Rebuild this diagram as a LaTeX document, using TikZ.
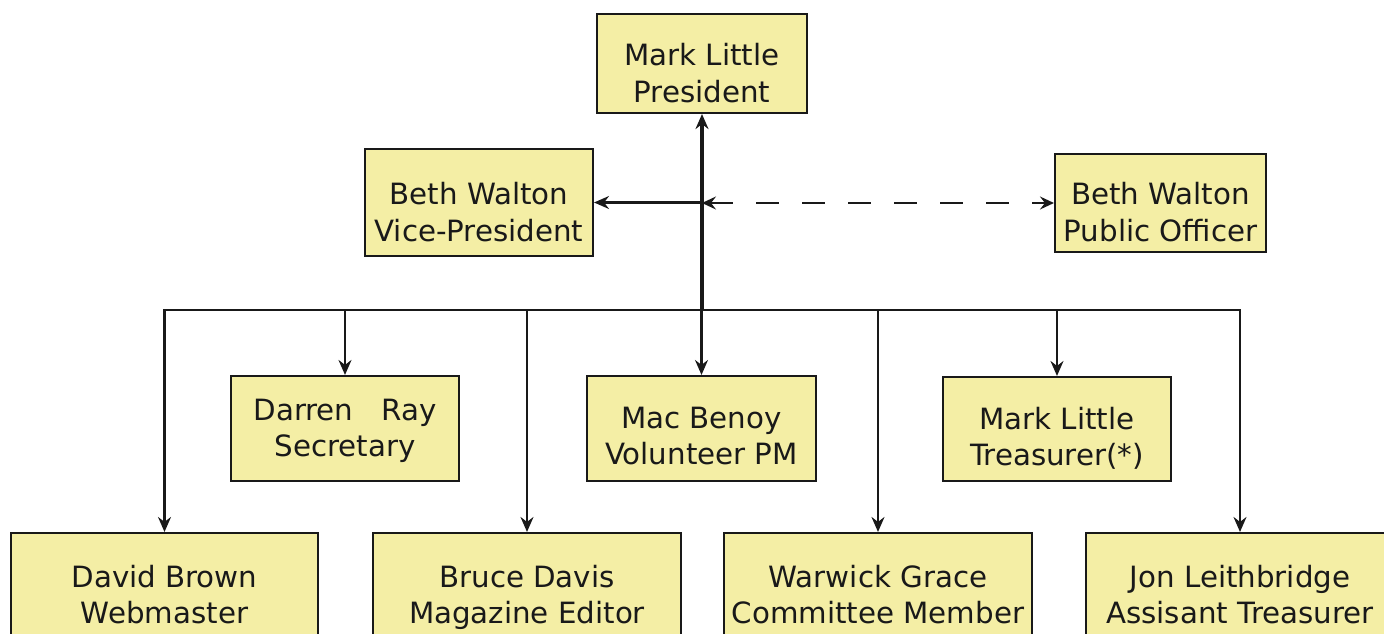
\documentclass[tikz,border=0pt]{standalone}
\usepackage{fontspec}
\setmainfont{DejaVu Sans}
\usetikzlibrary{arrows.meta}
\definecolor{boxfill}{RGB}{244,238,165}
\definecolor{ink}{RGB}{25,25,25}
\tikzset{
  box/.style={draw=ink, line width=2.1pt, fill=boxfill, inner sep=0pt},
  txt/.style={inner sep=0pt, align=center, text=ink, font=\fontsize{29.3}{36.5}\selectfont},
  conn/.style={draw=ink, line width=2.1pt},
  trunk/.style={draw=ink, line width=3.2pt},
  tip/.style={-{Stealth[length=15pt,width=13pt,inset=5pt]}},
  tips/.style={{Stealth[length=15pt,width=13pt,inset=5pt]}-{Stealth[length=15pt,width=13pt,inset=5pt]}},
  dashconn/.style={draw=ink, line width=2.1pt, dash pattern=on 23pt off 23pt,
    {Stealth[length=14pt,width=13pt,inset=5pt]}-{Stealth[length=14pt,width=13pt,inset=5pt]}}
}
\newcommand{\twolines}[2]{\strut #1\\\strut #2}
\begin{document}
\begin{tikzpicture}[x=1pt,y=-1pt]
\useasboundingbox (0,0) rectangle (1384,634);
\clip (0,0) rectangle (1384,634);
% boxes
\node[box, minimum width=210pt, minimum height=99pt] (pres) at (702,63.5) {};
\node[box, minimum width=228pt, minimum height=107pt] (vp) at (479,202.5) {};
\node[box, minimum width=211pt, minimum height=98pt] (po) at (1160.5,203) {};
\node[box, minimum width=228pt, minimum height=105pt] (sec) at (345,428.5) {};
\node[box, minimum width=229pt, minimum height=105pt] (mac) at (701.5,428.5) {};
\node[box, minimum width=228pt, minimum height=104pt] (tre) at (1057,429) {};
\node[box, minimum width=307pt, minimum height=112pt] (dav) at (164.5,589) {};
\node[box, minimum width=308pt, minimum height=112pt] (bru) at (527,589) {};
\node[box, minimum width=308pt, minimum height=112pt] (war) at (878,589) {};
\node[box, minimum width=308pt, minimum height=112pt] (jon) at (1240,589) {};
% texts
\node[txt] (pres-t) at (702,76.5) {\twolines{Mark Little}{President}};
\node[txt] (vp-t) at (479,215.5) {\twolines{Beth Walton}{Vice-President}};
\node[txt] (po-t) at (1160.5,215.7) {\twolines{Beth Walton}{Public Officer}};
\node[txt] (sec-t) at (345,431) {\twolines{Darren~~~Ray}{Secretary}};
\node[txt] (mac-t) at (701.5,439) {\twolines{Mac Benoy}{Volunteer PM}};
\node[txt] (tre-t) at (1057,440) {\twolines{Mark Little}{Treasurer(*)}};
\node[txt] (dav-t) at (164.5,598) {\twolines{David Brown}{Webmaster}};
\node[txt] (bru-t) at (527,598) {\twolines{Bruce Davis}{Magazine Editor}};
\node[txt] (war-t) at (878,598) {\twolines{Warwick Grace}{Committee Member}};
\node[txt] (jon-t) at (1240,598) {\twolines{Jon Leithbridge}{Assisant Treasurer}};
% connectors
\coordinate (bus) at (702,310);
\draw[conn, tips] (dav.north) -- (dav.north |- bus) -- (jon.north |- bus) -- (jon.north);
\draw[trunk, tip] (pres.south |- bus) -- (pres.south);
\draw[conn, tip] (pres.south |- vp.east) -- (vp.east);
\path[dashconn] (pres.south |- po.west) -- (po.west);
\foreach \n in {sec,bru,mac,war,tre}{
  \draw[conn, tip] (\n.north |- bus) -- (\n.north);
}
\end{tikzpicture}
\end{document}
